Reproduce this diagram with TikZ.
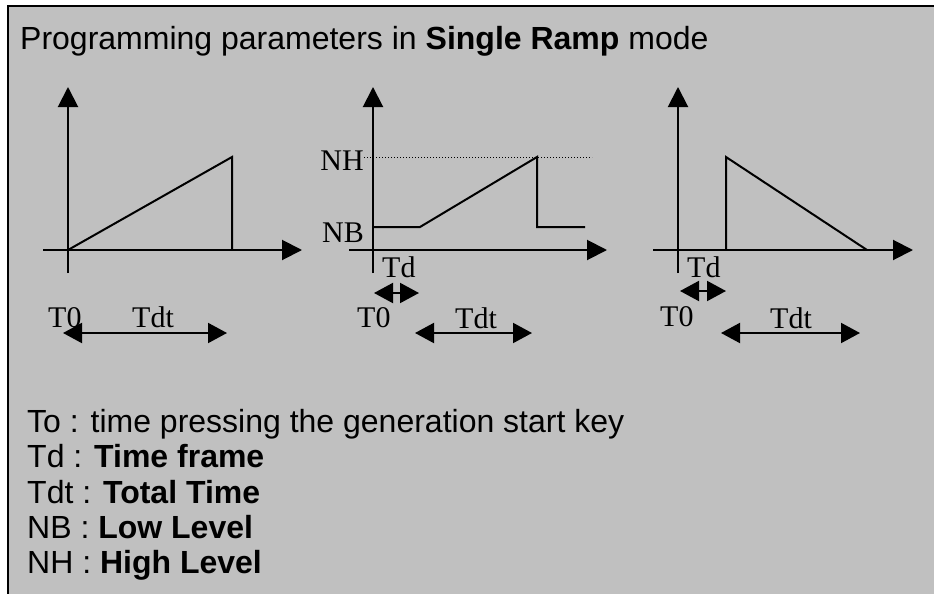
\documentclass[tikz,border=0pt]{standalone}
\usepackage{fontspec}
\setmainfont{Liberation Serif}
\setsansfont{Liberation Sans}
\usetikzlibrary{arrows.meta}

\definecolor{panelgray}{HTML}{C0C0C0}

\begin{document}
\begin{tikzpicture}[x=1pt, y=-1pt, line join=miter,
    axis/.style={line width=2pt, -{Triangle[length=20pt,width=20pt]}},
    curve/.style={line width=2pt},
    span/.style={line width=2pt, {Triangle[length=19pt,width=20pt]}-{Triangle[length=19pt,width=20pt]}},
    lbl/.style={font=\fontsize{30}{30}\selectfont, inner sep=0pt, anchor=base west},
    txt/.style={font=\sffamily\fontsize{32}{36}\selectfont, inner sep=0pt, anchor=base west}]
    \path[use as bounding box] (0,0) rectangle (934,594);
    \fill[panelgray] (8,6) rectangle (934,594);
    \draw[line width=2.5pt] (934,6) -- (8,6) -- (8,594);
    \node[txt] (title) at (20,49) {Programming parameters in \textbf{Single Ramp} mode};
    % axes of the three plots
    \coordinate (O1) at (68,250);
    \coordinate (O2) at (373,250);
    \coordinate (O3) at (678,250);
    \foreach \ox/\l/\r in {68/43/302, 373/349/607, 678/653/913} {
        \draw[axis] (\ox,273) -- (\ox,87);
        \draw[axis] (\l,250) -- (\r,250);
    }
    % plot 1
    \draw[curve] (O1) -- (232,157) -- (232,250);
    \node[lbl] (t0a) at (48,327) {T0};
    \node[lbl] (tdta) at (132,327) {Tdt};
    \coordinate (s1l) at (63,333);
    \coordinate (s1r) at (227,333);
    \draw[span] (s1l) -- (s1r);
    % plot 2
    \draw[line width=1pt, dash pattern=on 1pt off 2pt] (364,157) -- (592,157);
    \draw[curve] (373,227) -- (420,227) -- (537,157) -- (537,227) -- (585,227);
    \node[lbl, anchor=base east] (nh) at (364,170) {NH};
    \node[lbl, anchor=base east] (nb) at (364,242) {NB};
    \node[lbl] (tdb) at (382,277) {Td};
    \coordinate (d2l) at (374,293);
    \coordinate (d2r) at (419,293);
    \draw[span] (d2l) -- (d2r);
    \node[lbl] (t0b) at (357,327) {T0};
    \node[lbl] (tdtb) at (455,328) {Tdt};
    \coordinate (s2l) at (415,333);
    \coordinate (s2r) at (532,333);
    \draw[span] (s2l) -- (s2r);
    % plot 3
    \draw[curve] (726,250) -- (726,157) -- (867,250);
    \node[lbl] (tdc) at (687,277) {Td};
    \coordinate (d3l) at (680,291);
    \coordinate (d3r) at (726,291);
    \draw[span] (d3l) -- (d3r);
    \node[lbl] (t0c) at (660,326) {T0};
    \node[lbl] (tdtc) at (770,328) {Tdt};
    \coordinate (s3l) at (721,333);
    \coordinate (s3r) at (860,333);
    \draw[span] (s3l) -- (s3r);
    % legend
    \node[txt] (leg1) at (27,432) {To : time pressing the generation start key};
    \node[txt] (leg2) at (27,467) {Td : \textbf{Time frame}};
    \node[txt] (leg3) at (27,503) {Tdt : \textbf{Total Time}};
    \node[txt] (leg4) at (27,538) {NB : \textbf{Low Level}};
    \node[txt] (leg5) at (27,573) {NH : \textbf{High Level}};
\end{tikzpicture}
\end{document}
